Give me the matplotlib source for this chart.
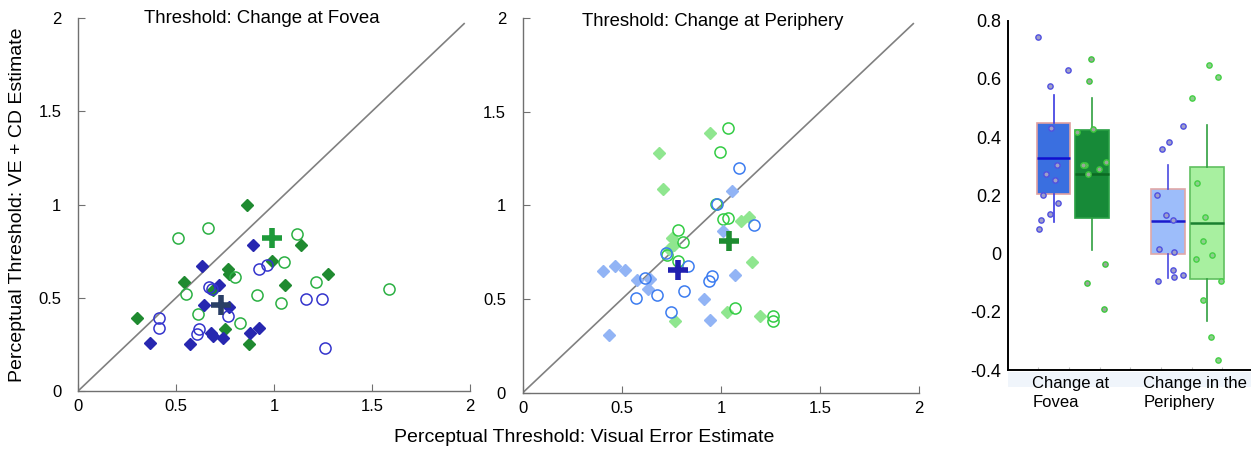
import matplotlib
matplotlib.use("Agg")
import matplotlib.pyplot as plt
from matplotlib.patches import Rectangle
import matplotlib.transforms as mtransforms

plt.rcParams['font.family'] = ['Liberation Sans', 'DejaVu Sans']

# ---- fovea scatter ----
fov_dia_g_x = [0.86, 0.30, 0.54, 0.767, 0.77, 0.687, 0.988, 1.138, 1.274, 1.056, 0.75, 0.872]
fov_dia_g_y = [1.00, 0.39, 0.585, 0.656, 0.625, 0.543, 0.697, 0.784, 0.63, 0.569, 0.33, 0.252]
fov_circ_g_x = [0.512, 0.665, 1.119, 1.05, 0.80, 0.551, 0.61, 0.912, 1.034, 1.213, 0.828, 1.585]
fov_circ_g_y = [0.819, 0.873, 0.842, 0.692, 0.614, 0.522, 0.415, 0.514, 0.471, 0.587, 0.364, 0.545]
fov_dia_b_x = [0.895, 0.631, 0.72, 0.645, 0.772, 0.367, 0.571, 0.679, 0.69, 0.741, 0.878, 0.923]
fov_dia_b_y = [0.783, 0.670, 0.569, 0.46, 0.453, 0.259, 0.25, 0.31, 0.295, 0.286, 0.31, 0.339]
fov_circ_b_x = [0.923, 0.963, 0.682, 0.765, 0.415, 0.413, 0.619, 0.609, 1.162, 1.247, 1.259, 0.67]
fov_circ_b_y = [0.652, 0.674, 0.547, 0.40, 0.393, 0.34, 0.332, 0.308, 0.491, 0.491, 0.23, 0.56]
fov_mean_g = (0.988, 0.821)
fov_mean_b = (0.728, 0.462)

# ---- periphery scatter ----
per_dia_g_x = [0.945, 0.687, 0.706, 0.751, 0.763, 1.10, 1.143, 1.155, 1.029, 0.77, 1.197, 0.74]
per_dia_g_y = [1.386, 1.282, 1.086, 0.828, 0.788, 0.916, 0.939, 0.697, 0.432, 0.382, 0.409, 0.77]
per_circ_g_x = [1.037, 0.997, 0.973, 1.012, 1.037, 0.785, 0.81, 0.726, 0.785, 1.071, 1.26, 1.26]
per_circ_g_y = [1.415, 1.284, 1.006, 0.926, 0.935, 0.871, 0.805, 0.734, 0.702, 0.45, 0.412, 0.382]
per_dia_b_x = [1.054, 1.008, 0.407, 0.466, 0.516, 0.575, 0.634, 1.07, 0.914, 0.945, 0.434, 0.642]
per_dia_b_y = [1.076, 0.862, 0.651, 0.677, 0.658, 0.604, 0.556, 0.631, 0.50, 0.386, 0.311, 0.61]
per_circ_b_x = [1.091, 1.168, 0.982, 0.721, 0.832, 0.617, 0.956, 0.941, 0.815, 0.679, 0.573, 0.748]
per_circ_b_y = [1.20, 0.894, 1.01, 0.745, 0.677, 0.613, 0.622, 0.596, 0.542, 0.521, 0.505, 0.432]
per_mean_g = (1.04, 0.811)
per_mean_b = (0.783, 0.658)

# ---- box plot (differences) ----
box_pos = [1.5, 2.75, 5.23, 6.49]
box_q1 = [0.205, 0.122, 0.0, -0.087]
box_med = [0.328, 0.273, 0.113, 0.105]
box_q3 = [0.45, 0.423, 0.222, 0.297]
box_lo = [0.107, 0.011, -0.083, -0.232]
box_hi = [0.545, 0.534, 0.305, 0.442]

pts_fb_x = [1.0, 1.96, 1.38, 1.41, 1.62, 1.27, 1.54, 1.15, 1.64, 1.40, 1.09, 1.04]
pts_fb_y = [0.745, 0.631, 0.576, 0.432, 0.303, 0.273, 0.254, 0.201, 0.173, 0.137, 0.114, 0.086]
pts_fg_x = [2.73, 2.65, 2.80, 2.27, 2.52, 2.45, 2.63, 2.99, 3.21, 3.17, 2.58, 3.16]
pts_fg_y = [0.669, 0.594, 0.429, 0.416, 0.303, 0.303, 0.273, 0.289, 0.314, -0.035, -0.10, -0.19]
pts_pb_x = [5.71, 5.26, 5.03, 4.86, 5.15, 5.39, 4.92, 5.43, 5.40, 5.73, 5.43, 4.91]
pts_pb_y = [0.439, 0.384, 0.358, 0.202, 0.134, 0.117, 0.014, 0.006, -0.055, -0.075, -0.082, -0.095]
pts_pg_x = [6.55, 6.86, 6.01, 6.16, 6.43, 6.36, 6.14, 6.66, 6.96, 6.36, 6.63, 6.84]
pts_pg_y = [0.648, 0.606, 0.533, 0.242, 0.126, 0.042, -0.018, -0.006, -0.093, -0.161, -0.287, -0.366]

box_labels = ["Change at\nFovea", "Change in the\nPeriphery"]
box_label_x = [0.815, 4.42]


fig = plt.figure(figsize=(12.51, 4.51), dpi=100)

ax1 = fig.add_axes([0.0624, 0.133, 0.3133, 0.827])
ax2 = fig.add_axes([0.4178, 0.129, 0.317, 0.831])
ax3 = fig.add_axes([0.8058, 0.1796, 0.1942, 0.7745])


def style_scatter(ax):
    ax.set_xlim(0, 2)
    ax.set_ylim(0, 2)
    ax.plot([0, 1.97], [0, 1.97], color='#808080', lw=1.2, zorder=1)
    for s in ['top', 'right']:
        ax.spines[s].set_visible(False)
    for s in ['left', 'bottom']:
        ax.spines[s].set_color('#707070')
        ax.spines[s].set_linewidth(1.0)
    ax.set_xticks([0, 0.5, 1, 1.5, 2])
    ax.set_xticklabels(['0', '0.5', '1', '1.5', '2'])
    ax.set_yticks([0, 0.5, 1, 1.5, 2])
    ax.set_yticklabels(['0', '0.5', '1', '1.5', '2'])
    ax.tick_params(direction='in', length=5, color='#707070', labelsize=12, pad=6)
    ax.tick_params(axis='y', pad=12)


# fovea
style_scatter(ax1)
ax1.plot(fov_dia_g_x, fov_dia_g_y, 'D', ms=6.5, color='#1f8a30', mec='#1f8a30', zorder=3)
ax1.plot(fov_circ_g_x, fov_circ_g_y, 'o', ms=8, mfc='none', mec='#2bb043', mew=1.1, zorder=3)
ax1.plot(fov_dia_b_x, fov_dia_b_y, 'D', ms=6.5, color='#2727b0', zorder=3)
ax1.plot(fov_circ_b_x, fov_circ_b_y, 'o', ms=8, mfc='none', mec='#3434cc', mew=1.1, zorder=3)
ax1.plot(*fov_mean_g, '+', ms=15, mew=4, color='#1e9a3a', zorder=4)
ax1.plot(*fov_mean_b, '+', ms=15, mew=4, color='#2a3f66', zorder=4)
ax1.text(0.468, 1.0, "Threshold: Change at Fovea", transform=ax1.transAxes,
         ha='center', va='center', fontsize=13.4)

# periphery
style_scatter(ax2)
ax2.plot(per_dia_g_x, per_dia_g_y, 'D', ms=6.5, color='#8fe68f', zorder=3)
ax2.plot(per_circ_g_x, per_circ_g_y, 'o', ms=8, mfc='none', mec='#33cc44', mew=1.1, zorder=3)
ax2.plot(per_dia_b_x, per_dia_b_y, 'D', ms=6.5, color='#92b4f5', zorder=3)
ax2.plot(per_circ_b_x, per_circ_b_y, 'o', ms=8, mfc='none', mec='#3c7cf0', mew=1.1, zorder=3)
ax2.plot(*per_mean_g, '+', ms=15, mew=4, color='#1e8c30', zorder=4)
ax2.plot(*per_mean_b, '+', ms=15, mew=4, color='#2020b0', zorder=4)
ax2.text(0.48, 0.99, "Threshold: Change at Periphery", transform=ax2.transAxes,
         ha='center', va='center', fontsize=13.3)

fig.text(0.014, 0.545, "Perceptual Threshold: VE + CD Estimate", rotation=90,
         ha='center', va='center', fontsize=14)
fig.text(0.467, 0.029, "Perceptual Threshold: Visual Error Estimate",
         ha='center', va='center', fontsize=14)

# box plot
box_face = ['#3a6fe0', '#178a38', '#9dbdfa', '#a8f0a0']
box_edge = ['#e0a0a0', '#2aa045', '#e0a8a8', '#60c060']
med_col = ['#1010d0', '#0c6a22', '#1a1acc', '#1a8030']
wh_col = ['#3a3ae0', '#30a040', '#4a4ae0', '#30a040']
stats = []
for i in range(len(box_pos)):
    stats.append(dict(med=box_med[i], q1=box_q1[i], q3=box_q3[i],
                      whislo=box_lo[i], whishi=box_hi[i], fliers=[]))
bp = ax3.bxp(stats, positions=box_pos, widths=1.1, patch_artist=True,
             showcaps=False, showfliers=False, manage_ticks=False)
for i in range(len(box_pos)):
    bp['boxes'][i].set_facecolor(box_face[i])
    bp['boxes'][i].set_edgecolor(box_edge[i])
    bp['boxes'][i].set_linewidth(1.2)
    bp['medians'][i].set_color(med_col[i])
    bp['medians'][i].set_linewidth(1.8)
    for w in bp['whiskers'][2 * i:2 * i + 2]:
        w.set_color(wh_col[i])
        w.set_linewidth(1.2)

ax3.plot(pts_fb_x, pts_fb_y, 'o', ms=3.8, mfc='#a0a0c8', mec='#5050e0', mew=1.0, zorder=4)
ax3.plot(pts_fg_x, pts_fg_y, 'o', ms=3.8, mfc='#9aa69a', mec='#3cc83c', mew=1.0, zorder=4)
ax3.plot(pts_pb_x, pts_pb_y, 'o', ms=3.8, mfc='#a0a0c8', mec='#5050e0', mew=1.0, zorder=4)
ax3.plot(pts_pg_x, pts_pg_y, 'o', ms=3.8, mfc='#8fcc8f', mec='#44d044', mew=1.0, zorder=4)

ax3.set_xlim(0.02, 7.93)
ax3.set_ylim(-0.4, 0.8)
ax3.set_yticks([-0.4, -0.2, 0, 0.2, 0.4, 0.6, 0.8])
ax3.set_yticklabels(['-0.4', '-0.2', '0', '0.2', '0.4', '0.6', '0.8'])
ax3.set_xticks([1, 2, 3, 4, 5, 6, 7])
ax3.set_xticklabels([])
ax3.tick_params(axis='x', direction='in', length=2, color='#c0c0c0')
ax3.tick_params(axis='y', length=0, labelsize=13, pad=5)
for s in ['top', 'right']:
    ax3.spines[s].set_visible(False)
for s in ['left', 'bottom']:
    ax3.spines[s].set_color('black')
    ax3.spines[s].set_linewidth(1.4)

# pale band behind category labels
fig.add_artist(Rectangle((1008 / 1251, 1 - 387 / 451), 243 / 1251, 15 / 451,
                         transform=fig.transFigure, facecolor='#f0f5fb',
                         edgecolor='none', zorder=0))
trans = mtransforms.blended_transform_factory(ax3.transData, ax3.transAxes)
for lx, lab in zip(box_label_x, box_labels):
    ax3.text(lx, -0.018, lab, transform=trans, ha='left', va='top',
             fontsize=12, linespacing=1.3, multialignment='left')

fig.savefig("out.png", dpi=100)
